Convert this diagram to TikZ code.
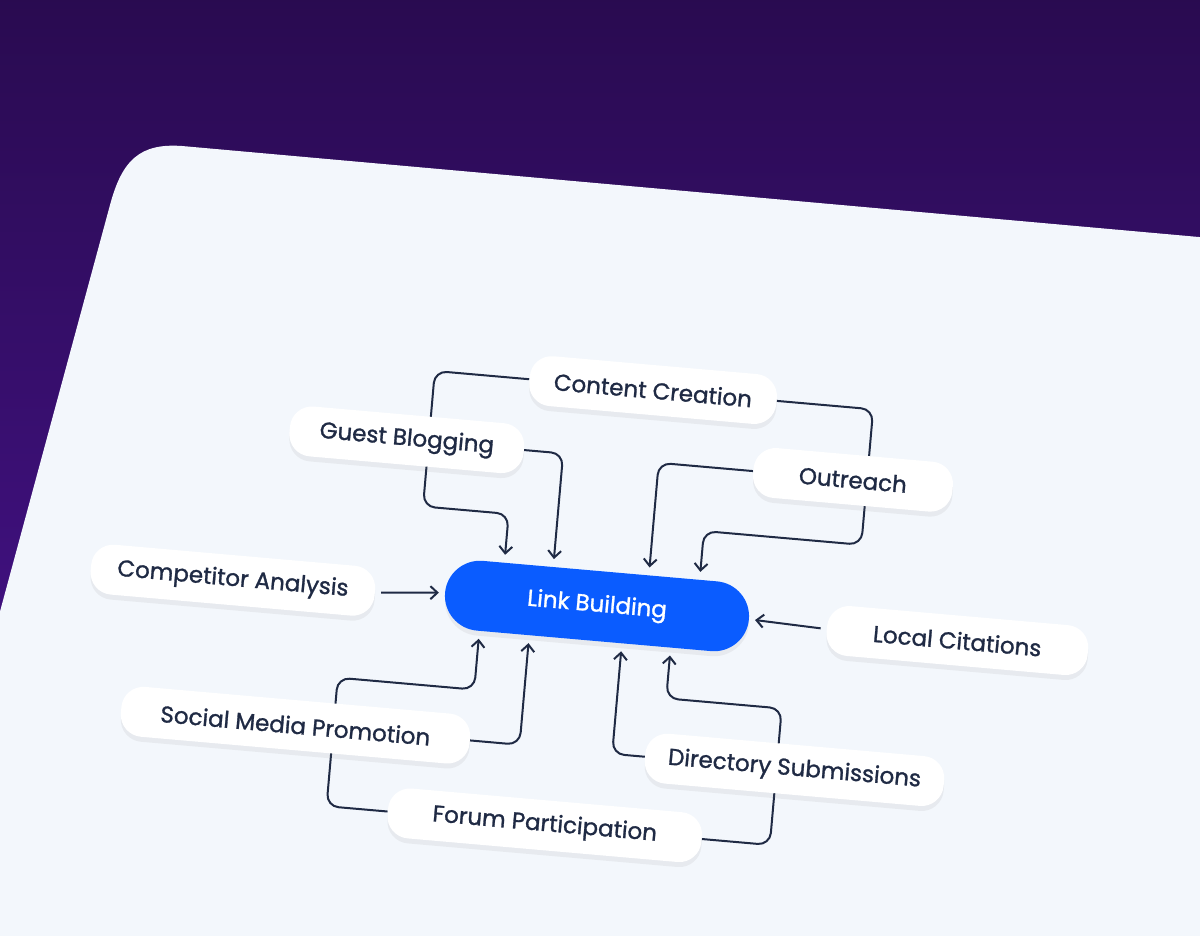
\documentclass[tikz,border=0pt]{standalone}
\usepackage{fontspec}
\setmainfont{Poppins}
\newfontfamily\pfont{Poppins}[FakeBold=1.2]
\usetikzlibrary{arrows.meta,shadows,backgrounds}
\definecolor{ink}{HTML}{1F2A44}
\definecolor{card}{HTML}{F3F7FC}
\definecolor{blu}{HTML}{0A5CFF}
\definecolor{bgtop}{HTML}{290B50}
\definecolor{bgbot}{HTML}{4B1396}
\begin{document}
\begin{tikzpicture}[x=1pt,y=-1pt,
  pill/.style={draw=none,fill=white,rounded corners=22pt,minimum height=50pt,inner xsep=16pt,
    font=\pfont\fontsize{23}{27}\selectfont,text=ink,
    drop shadow={opacity=0.10,shadow xshift=0pt,shadow yshift=-5pt}},
  link/.style={draw=ink,line width=2pt,rounded corners=12pt},
  arr/.style={link,-{Straight Barb[length=7pt,width=13pt]},shorten >=8pt}]
\useasboundingbox (0,0) rectangle (1200,935);
\begin{scope}[on background layer]
\shade[top color=bgtop,bottom color=bgbot] (-5,-5) rectangle (1205,940);
\fill[card] (-5,945) -- (-5,630) -- (110,205) .. controls (122,160) and (140,143) .. (182,146) -- (1210,238) -- (1210,945) -- cycle;
\end{scope}
\begin{scope}[rotate around={-5:(597,606)},transform shape]
\coordinate (c) at (597,606);
\coordinate (p1) at (415,386); \coordinate (p2) at (415,522); \coordinate (p3) at (501,522); \coordinate (p4) at (501,571);
\coordinate (q1) at (550,457); \coordinate (q2) at (550,571);
\coordinate (r1) at (855,386); \coordinate (r2) at (855,522); \coordinate (r3) at (697,522); \coordinate (r4) at (697,571);
\coordinate (s1) at (646,458); \coordinate (s2) at (646,571);
\coordinate (t1) at (532,751); \coordinate (t2) at (532,641);
\coordinate (u1) at (345,829); \coordinate (u2) at (345,700); \coordinate (u3) at (482,700); \coordinate (u4) at (482,641);
\coordinate (v1) at (625,752); \coordinate (v2) at (625,641);
\coordinate (w1) at (790,829); \coordinate (w2) at (790,692); \coordinate (w3) at (674,692); \coordinate (w4) at (674,641);
\node[pill,minimum width=248pt] (cc) at (634,386) {Content Creation};
\node[pill,minimum width=235pt] (gb) at (393,457) {Guest Blogging};
\node[pill,minimum width=200pt] (out) at (841,458) {Outreach};
\node[pill,minimum width=285pt] (ca) at (232,612) {Competitor Analysis};
\node[pill,minimum width=262pt] (lc) at (959,609) {Local Citations};
\node[pill,minimum width=350pt] (sm) at (307,751) {Social Media Promotion};
\node[pill,minimum width=300pt] (ds) at (808,752) {Directory Submissions};
\node[pill,minimum width=315pt] (fp) at (564,829) {Forum Participation};
\node[pill,fill=blu,text=white,minimum width=305pt,minimum height=70pt,rounded corners=35pt] (lb) at (c) {Link Building};
\draw[arr,shorten >=6pt,shorten <=6pt] (ca.east) -- (lb.west);
\draw[arr,shorten >=6pt,shorten <=6pt] (lc.west) -- (lb.east);
\begin{scope}[on background layer]
\draw[arr] (cc.west) -- (p1) -- (p2) -- (p3) -- (p4);
\draw[arr] (gb.east) -- (q1) -- (q2);
\draw[arr] (cc.east) -- (r1) -- (r2) -- (r3) -- (r4);
\draw[arr] (out.west) -- (s1) -- (s2);
\draw[arr] (sm.east) -- (t1) -- (t2);
\draw[arr] (fp.west) -- (u1) -- (u2) -- (u3) -- (u4);
\draw[arr] (ds.west) -- (v1) -- (v2);
\draw[arr] (fp.east) -- (w1) -- (w2) -- (w3) -- (w4);
\end{scope}
\end{scope}
\end{tikzpicture}
\end{document}
